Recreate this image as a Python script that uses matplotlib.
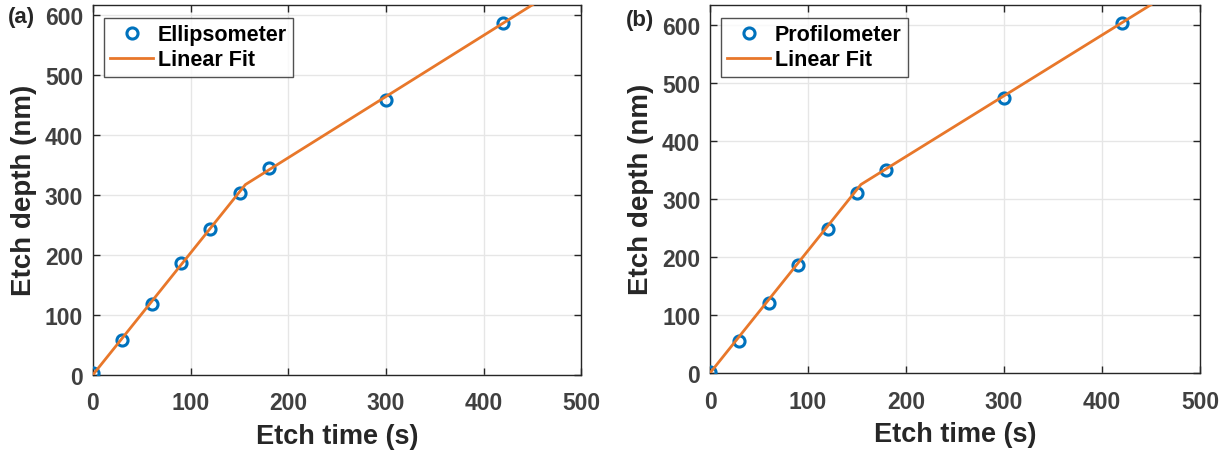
import matplotlib
matplotlib.use("Agg")
import matplotlib.pyplot as plt

# ---- data ----
time_s = [0, 30, 60, 90, 120, 150, 180, 300, 420]
depth_ellipsometer = [3, 58, 118, 186, 243, 303, 344, 458, 587]
depth_profilometer = [1, 56, 120, 186, 248, 311, 350, 474, 603]
fit_t_a = [0, 156, 450]
fit_d_a = [0, 317, 617]
fit_t_b = [0, 154, 450]
fit_d_b = [0, 325, 635]
x_ticks = [0, 100, 200, 300, 400, 500]
y_ticks = [0, 100, 200, 300, 400, 500, 600]
ylim_a = (0, 617)
ylim_b = (0, 635)
labels = ["Ellipsometer", "Profilometer"]
panel_tags = ["(a)", "(b)"]

BLUE = "#0072BD"
ORANGE = "#E8772A"
AX_COLOR = "#262626"
TICK_COLOR = "#404040"

plt.rcParams["font.family"] = ["Liberation Sans", "DejaVu Sans"]
plt.rcParams["font.weight"] = "bold"

fig = plt.figure(figsize=(12.28, 4.52), dpi=100)
positions = [[0.0757, 0.1688, 0.3978, 0.8186], [0.5782, 0.1726, 0.3990, 0.8148]]
datasets = [(depth_ellipsometer, fit_t_a, fit_d_a, ylim_a),
            (depth_profilometer, fit_t_b, fit_d_b, ylim_b)]
tag_pos = [(0.0065, 0.962), (0.5100, 0.955)]

for i, (pos, (depth, ft, fd, yl)) in enumerate(zip(positions, datasets)):
    ax = fig.add_axes(pos)
    ax.plot(time_s, depth, linestyle="none", marker="o", markersize=8,
            markerfacecolor="none", markeredgecolor=BLUE, markeredgewidth=2.2,
            label=labels[i], zorder=3)
    ax.plot(ft, fd, color=ORANGE, linewidth=2.0, label="Linear Fit", zorder=4)
    ax.set_xlim(0, 500)
    ax.set_ylim(*yl)
    ax.set_xticks(x_ticks)
    ax.set_yticks(y_ticks)
    ax.grid(True, color="#e6e6e6", linewidth=1.0)
    ax.set_axisbelow(True)
    for s in ax.spines.values():
        s.set_color(AX_COLOR)
        s.set_linewidth(1.0)
    ax.tick_params(direction="in", length=5, width=1.0, color=AX_COLOR,
                   labelcolor=TICK_COLOR, labelsize=16.5, top=True, right=True)
    ax.tick_params(axis="y", pad=7)
    ax.tick_params(axis="x", pad=12)
    for lab in ax.get_xticklabels() + ax.get_yticklabels():
        lab.set_fontweight("bold")
    ax.set_xlabel("Etch time (s)", fontsize=19.5, fontweight="bold", color=AX_COLOR, labelpad=6)
    ax.set_ylabel("Etch depth (nm)", fontsize=20, fontweight="bold", color=AX_COLOR, labelpad=6)
    leg = ax.legend(loc="upper left", bbox_to_anchor=(0.022, 0.965), fontsize=15.5,
                    frameon=True, fancybox=False, edgecolor=AX_COLOR,
                    handlelength=2.0, handletextpad=0.2, borderpad=0.3,
                    labelspacing=0.2, borderaxespad=0.0)
    leg.get_frame().set_linewidth(1.0)
    for t in leg.get_texts():
        t.set_fontweight("bold")
        t.set_color("black")
    fig.text(tag_pos[i][0], tag_pos[i][1], panel_tags[i], fontsize=16,
             fontweight="bold", color=AX_COLOR, va="center", ha="left")

fig.savefig("out.png", dpi=100)
